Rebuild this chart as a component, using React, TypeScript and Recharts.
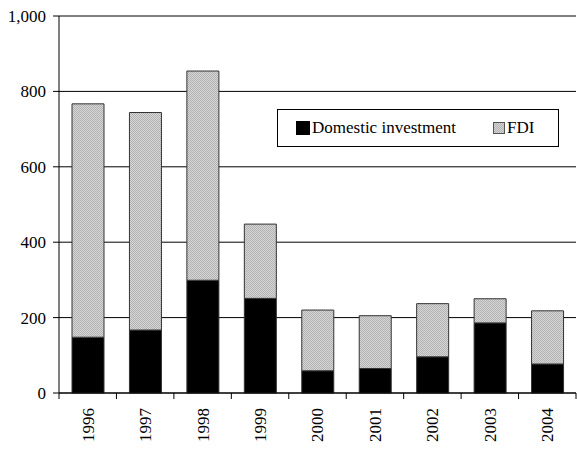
import React from "react";
import { BarChart, Bar, XAxis, YAxis, CartesianGrid } from "recharts";

const years = ["1996", "1997", "1998", "1999", "2000", "2001", "2002", "2003", "2004"];
const domestic = [148, 167, 299, 251, 59, 65, 96, 186, 77];
const fdi = [619, 577, 555, 197, 161, 140, 141, 64, 141];
const yTicks = [0, 200, 400, 600, 800, 1000];

const data = years.map((y, i) => ({ year: y, domestic: domestic[i], fdi: fdi[i] }));

const FONT = '"Liberation Serif", "Times New Roman", serif';
const PLOT_LEFT = 59;
const PLOT_WIDTH = 517;
const STEP = PLOT_WIDTH / years.length;

const YearTick = (props: any) => {
    const { x, y, payload, index } = props;
    return (
        <g>
            <line x1={x - STEP / 2} y1={y - 8} x2={x - STEP / 2} y2={y - 2} stroke="#000" />
            {index === years.length - 1 && (
                <line x1={x + STEP / 2} y1={y - 8} x2={x + STEP / 2} y2={y - 2} stroke="#000" />
            )}
            <text
                x={x}
                y={y + 7}
                transform={`rotate(-90, ${x}, ${y + 7})`}
                textAnchor="end"
                dy="0.35em"
                fontFamily={FONT}
                fontSize={17}
                fill="#000"
            >
                {payload.value}
            </text>
        </g>
    );
};

const LegendBox = () => (
    <div
        style={{
            position: "absolute",
            left: 277,
            top: 109,
            border: "1px solid #000",
            background: "#fff",
            width: 280,
            height: 36,
            display: "flex",
            alignItems: "center",
            fontFamily: FONT,
            fontSize: 17,
            color: "#000",
        }}
    >
        <span style={{ display: "inline-block", width: 14, height: 14, background: "#000", marginLeft: 18, marginRight: 2 }} />
        <span>Domestic investment</span>
        <svg width={12} height={12} style={{ marginLeft: 37, marginRight: 2 }}>
            <rect x={0.5} y={0.5} width={11} height={11} fill="url(#fdiDots)" stroke="#555" />
        </svg>
        <span>FDI</span>
    </div>
);

export default function App() {
    return (
        <div style={{ position: "absolute", left: 0, top: 0, width: 577, height: 449, background: "#fff" }}>
            <svg width={0} height={0} style={{ position: "absolute" }}>
                <defs>
                    <pattern id="fdiDots" width={2} height={2} patternUnits="userSpaceOnUse">
                        <rect width={2} height={2} fill="#d6d6d6" />
                        <rect width={1} height={1} fill="#b2b2b2" />
                        <rect x={1} y={1} width={1} height={1} fill="#b2b2b2" />
                    </pattern>
                </defs>
            </svg>
            <BarChart
                width={577}
                height={449}
                data={data}
                margin={{ top: 16, right: 1, left: 0, bottom: 0 }}
                barSize={32}
            >
                <CartesianGrid vertical={false} stroke="#000" />
                <XAxis
                    dataKey="year"
                    height={56}
                    axisLine={{ stroke: "#000" }}
                    tickLine={false}
                    tick={<YearTick />}
                    interval={0}
                />
                <YAxis
                    width={PLOT_LEFT}
                    domain={[0, 1000]}
                    ticks={yTicks}
                    tickFormatter={(v: number) => v.toLocaleString("en-US")}
                    axisLine={{ stroke: "#000" }}
                    tickLine={{ stroke: "#000" }}
                    tickSize={6}
                    tickMargin={7}
                    tick={{ fill: "#000", fontFamily: FONT, fontSize: 17 }}
                />
                <Bar dataKey="domestic" stackId="a" fill="#000" stroke="#333" isAnimationActive={false} />
                <Bar dataKey="fdi" stackId="a" fill="url(#fdiDots)" stroke="#333" isAnimationActive={false} />
            </BarChart>
            <LegendBox />
        </div>
    );
}
